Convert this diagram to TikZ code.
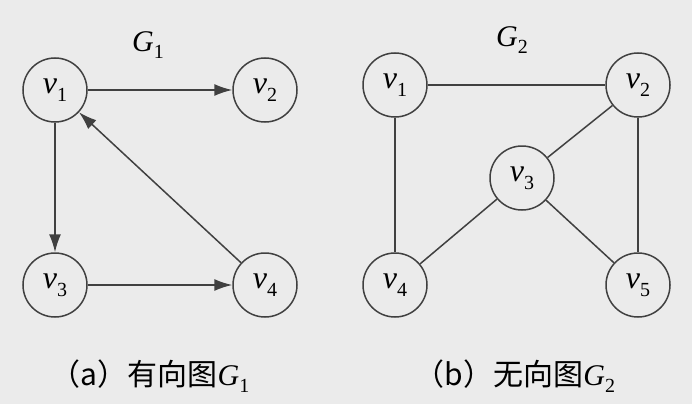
\documentclass[tikz,border=0pt]{standalone}
\usepackage{fontspec}
\setmainfont{Liberation Serif}
\newfontfamily\cjk{Noto Sans CJK SC}
\usetikzlibrary{arrows.meta}
\newcommand{\vv}[2]{\textit{#1}\raisebox{-0.25em}{\fontsize{20}{22}\selectfont #2}}
\begin{document}
\begin{tikzpicture}[x=1pt,y=-1pt,
  vx/.style={circle,draw=black!75,line width=1.5pt,minimum size=64pt,inner sep=0pt,font=\fontsize{32}{36}\selectfont},
  lbl/.style={font=\fontsize{30}{34}\selectfont},
  arc/.style={line width=1.5pt,draw=black!75,-{Latex[length=18pt,width=12pt]}},
  ed/.style={line width=1.5pt,draw=black!75}]
\fill[black!8] (0,0) rectangle (692,404);
\useasboundingbox (0,0) rectangle (692,404);
\node[vx] (a1) at (55,90) {\vv{v}{1}};
\node[vx] (a2) at (265,90) {\vv{v}{2}};
\node[vx] (a3) at (55,285) {\vv{v}{3}};
\node[vx] (a4) at (265,285) {\vv{v}{4}};
\node[lbl] (g1) at (148,45) {\vv{G}{1}};
\draw[arc] (a1) -- (a2);
\draw[arc] (a1) -- (a3);
\draw[arc] (a3) -- (a4);
\draw[arc] (a4) -- (a1);
\node[vx] (b1) at (395,85) {\vv{v}{1}};
\node[vx] (b2) at (638,85) {\vv{v}{2}};
\node[vx] (b3) at (522,178) {\vv{v}{3}};
\node[vx] (b4) at (395,285) {\vv{v}{4}};
\node[vx] (b5) at (638,285) {\vv{v}{5}};
\node[lbl] (g2) at (512,40) {\vv{G}{2}};
\draw[ed] (b1) -- (b2);
\draw[ed] (b1) -- (b4);
\draw[ed] (b2) -- (b3);
\draw[ed] (b2) -- (b5);
\draw[ed] (b3) -- (b4);
\draw[ed] (b3) -- (b5);
\node[lbl] (ca) at (150,376) {{\cjk （a）有向图}\vv{G}{1}};
\node[lbl] (cb) at (515,376) {{\cjk （b）无向图}\vv{G}{2}};
\end{tikzpicture}
\end{document}
